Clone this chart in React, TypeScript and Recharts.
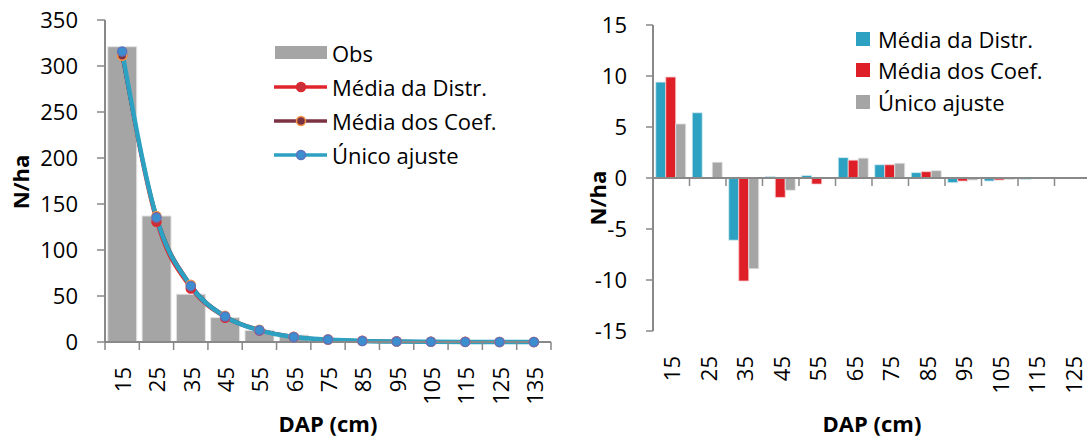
import { ComposedChart, BarChart, Bar, Line, XAxis, YAxis, Legend, ReferenceLine, Label } from 'recharts';

// Left chart: observed N/ha by DAP class and fitted curves
const dapClasses = ['15', '25', '35', '45', '55', '65', '75', '85', '95', '105', '115', '125', '135'];
const obsValues = [321, 137, 52, 26.5, 12.7, 7.5, 4, 1.8, 0.3, 0.1, 0, 0, 0];
const mediaDistrFit = [311.6, 130.6, 58.2, 26.4, 12.4, 5.5, 2.7, 1.3, 0.75, 0.4, 0.2, 0.1, 0.05];
const mediaCoefFit = [311.1, 137, 62.2, 28.4, 13.4, 5.8, 2.7, 1.2, 0.6, 0.3, 0.1, 0.05, 0.02];
const unicoFit = [315.7, 135.4, 61, 27.7, 12.7, 5.5, 2.6, 1.1, 0.5, 0.26, 0.1, 0.05, 0.02];
const leftTicks = [0, 50, 100, 150, 200, 250, 300, 350];

// Right chart: residuals (obs - fitted)
const residClasses = ['15', '25', '35', '45', '55', '65', '75', '85', '95', '105', '115', '125'];
const residDistr = [9.4, 6.4, -6.1, 0.15, 0.25, 2.0, 1.3, 0.53, -0.46, -0.3, -0.15, 0];
const residCoef = [9.9, 0, -10.1, -1.9, -0.6, 1.75, 1.3, 0.62, -0.3, -0.2, 0, 0];
const residUnico = [5.3, 1.55, -8.9, -1.2, 0, 1.95, 1.45, 0.72, -0.2, -0.15, 0, 0];
const rightTicks = [-15, -10, -5, 0, 5, 10, 15];

const leftData = dapClasses.map((dap, i) => ({
    dap,
    obs: obsValues[i],
    distr: mediaDistrFit[i],
    coef: mediaCoefFit[i],
    unico: unicoFit[i],
}));

const rightData = residClasses.map((dap, i) => ({
    dap,
    distr: residDistr[i],
    coef: residCoef[i],
    unico: residUnico[i],
}));

const AXIS = '#898989';
const GREY = '#A5A5A5';
const TEAL = '#2CA1C1';
const RED = '#DF1F28';
const FONT = 22;

// horizontal axis line with tick marks between categories (Excel style)
const categoryAxisLine = (count: number) => (props: any) => {
    const { x1, x2, y1 } = props;
    const step = (x2 - x1) / count;
    const marks = [];
    for (let i = 0; i <= count; i++) {
        const x = x1 + i * step;
        marks.push(<line key={i} x1={x} x2={x} y1={y1} y2={y1 + 8} stroke={AXIS} strokeWidth={1.5} />);
    }
    return (
        <g>
            <line x1={x1} x2={x2} y1={y1} y2={y1} stroke={AXIS} strokeWidth={2} />
            {marks}
        </g>
    );
};

const RotatedTick = ({ x, y, payload }: any) => (
    <g transform={`translate(${x},${y + 25}) rotate(-90)`}>
        <text textAnchor="end" dominantBaseline="central" fontSize={FONT} fill="#000">
            {payload.value}
        </text>
    </g>
);

const yTitle = (dx: number, dy: number) => ({ viewBox }: any) => {
    const cx = viewBox.x + dx;
    const cy = viewBox.y + viewBox.height / 2 + dy;
    return (
        <text
            x={cx}
            y={cy}
            transform={`rotate(-90 ${cx} ${cy})`}
            textAnchor="middle"
            dominantBaseline="central"
            fontSize={FONT}
            fontWeight="bold"
            fill="#000"
        >
            N/ha
        </text>
    );
};

const xTitle = ({ viewBox }: any) => (
    <text
        x={viewBox.x + viewBox.width / 2}
        y={viewBox.y + viewBox.height - 14}
        textAnchor="middle"
        dominantBaseline="central"
        fontSize={FONT}
        fontWeight="bold"
        fill="#000"
    >
        DAP (cm)
    </text>
);

const lineLegendItems = [
    { name: 'Média da Distr.', line: '#E0252C', fill: '#C8303A', stroke: '#E0262E' },
    { name: 'Média dos Coef.', line: '#7B3243', fill: '#7B3243', stroke: '#F79646' },
    { name: 'Único ajuste', line: TEAL, fill: '#3B8FCF', stroke: '#5B74BE' },
];

const LeftLegend = () => (
    <div style={{ display: 'flex', flexDirection: 'column', fontSize: FONT, color: '#000' }}>
        <div style={{ height: 34, display: 'flex', alignItems: 'center' }}>
            <svg width={58} height={14}>
                <rect x={1} y={0} width={52} height={13} fill={GREY} />
            </svg>
            <span>Obs</span>
        </div>
        {lineLegendItems.map((it) => (
            <div key={it.name} style={{ height: 34, display: 'flex', alignItems: 'center' }}>
                <svg width={58} height={14}>
                    <line x1={0} x2={53} y1={7} y2={7} stroke={it.line} strokeWidth={3.5} />
                    <circle cx={27} cy={7} r={4.5} fill={it.fill} stroke={it.stroke} strokeWidth={1.5} />
                </svg>
                <span>{it.name}</span>
            </div>
        ))}
    </div>
);

const barLegendItems = [
    { name: 'Média da Distr.', color: TEAL },
    { name: 'Média dos Coef.', color: RED },
    { name: 'Único ajuste', color: GREY },
];

const RightLegend = () => (
    <div style={{ display: 'flex', flexDirection: 'column', fontSize: FONT, color: '#000' }}>
        {barLegendItems.map((it) => (
            <div key={it.name} style={{ height: 31.5, display: 'flex', alignItems: 'center' }}>
                <span style={{ width: 14, height: 14, background: it.color, marginRight: 8, display: 'inline-block' }} />
                <span>{it.name}</span>
            </div>
        ))}
    </div>
);

const App = () => {
    return (
        <div
            style={{
                position: 'absolute',
                left: 0,
                top: 0,
                width: 1087,
                height: 437,
                overflow: 'hidden',
                background: '#fff',
                fontFamily: '"Open Sans", sans-serif',
            }}
        >
            <div style={{ position: 'absolute', left: 0, top: 0 }}>
                <ComposedChart
                    width={560}
                    height={437}
                    data={leftData}
                    margin={{ top: 20, right: 9, bottom: 0, left: 0 }}
                    barCategoryGap="8%"
                >
                    <XAxis
                        dataKey="dap"
                        height={95}
                        axisLine={false}
                        tickLine={false}
                        tickSize={0}
                        tickMargin={0}
                        interval={0}
                        tick={<RotatedTick />}
                    >
                        <Label content={xTitle} />
                    </XAxis>
                    <YAxis
                        width={105}
                        domain={[0, 350]}
                        ticks={leftTicks}
                        interval={0}
                        axisLine={{ stroke: AXIS, strokeWidth: 2 }}
                        tickLine={{ stroke: AXIS, strokeWidth: 1.5 }}
                        tickSize={8}
                        tickMargin={19}
                        tick={{ fill: '#000', fontSize: FONT }}
                    >
                        <Label content={yTitle(20, 1)} />
                    </YAxis>
                    <Legend
                        layout="vertical"
                        align="center"
                        verticalAlign="middle"
                        content={<LeftLegend />}
                        wrapperStyle={{ left: 274, top: 36, width: 240 }}
                    />
                    <Bar dataKey="obs" name="Obs" fill={GREY} stroke="#E4E4E4" strokeWidth={1} isAnimationActive={false} />
                    <Line
                        type="monotone"
                        dataKey="distr"
                        name="Média da Distr."
                        stroke="#E0252C"
                        strokeWidth={3}
                        dot={{ r: 4.5, fill: '#C8303A', stroke: '#E0262E', strokeWidth: 1.5 }}
                        isAnimationActive={false}
                    />
                    <Line
                        type="monotone"
                        dataKey="coef"
                        name="Média dos Coef."
                        stroke="#7B3243"
                        strokeWidth={3.5}
                        dot={{ r: 4.5, fill: '#7B3243', stroke: '#F79646', strokeWidth: 1.5 }}
                        isAnimationActive={false}
                    />
                    <Line
                        type="monotone"
                        dataKey="unico"
                        name="Único ajuste"
                        stroke={TEAL}
                        strokeWidth={4.5}
                        dot={{ r: 4.5, fill: '#3B8FCF', stroke: '#5B74BE', strokeWidth: 1.5 }}
                        isAnimationActive={false}
                    />
                    <ReferenceLine y={0} shape={categoryAxisLine(dapClasses.length)} />
                </ComposedChart>
            </div>

            <div style={{ position: 'absolute', left: 560, top: 0 }}>
                <BarChart
                    width={540}
                    height={437}
                    data={rightData}
                    margin={{ top: 25, right: 9, bottom: 0, left: 0 }}
                    barCategoryGap="7.5%"
                    barGap={0}
                >
                    <XAxis
                        dataKey="dap"
                        height={106}
                        axisLine={false}
                        tickLine={false}
                        tickSize={0}
                        tickMargin={0}
                        interval={0}
                        tick={<RotatedTick />}
                    >
                        <Label content={xTitle} />
                    </XAxis>
                    <YAxis
                        width={93}
                        domain={[-15, 15]}
                        ticks={rightTicks}
                        interval={0}
                        axisLine={{ stroke: AXIS, strokeWidth: 2 }}
                        tickLine={{ stroke: AXIS, strokeWidth: 1.5 }}
                        tickSize={7}
                        tickMargin={19}
                        tick={{ fill: '#000', fontSize: FONT }}
                    >
                        <Label content={yTitle(37, 20)} />
                    </YAxis>
                    <Legend
                        layout="vertical"
                        align="center"
                        verticalAlign="middle"
                        content={<RightLegend />}
                        wrapperStyle={{ left: 296, top: 23, width: 240 }}
                    />
                    <Bar dataKey="distr" name="Média da Distr." fill={TEAL} stroke="#D8EEF3" strokeWidth={0.8} isAnimationActive={false} />
                    <Bar dataKey="coef" name="Média dos Coef." fill={RED} stroke="#F6D2D4" strokeWidth={0.8} isAnimationActive={false} />
                    <Bar dataKey="unico" name="Único ajuste" fill={GREY} stroke="#E6E6E6" strokeWidth={0.8} isAnimationActive={false} />
                    <ReferenceLine y={0} shape={categoryAxisLine(residClasses.length)} />
                </BarChart>
            </div>
        </div>
    );
};

export default App;
